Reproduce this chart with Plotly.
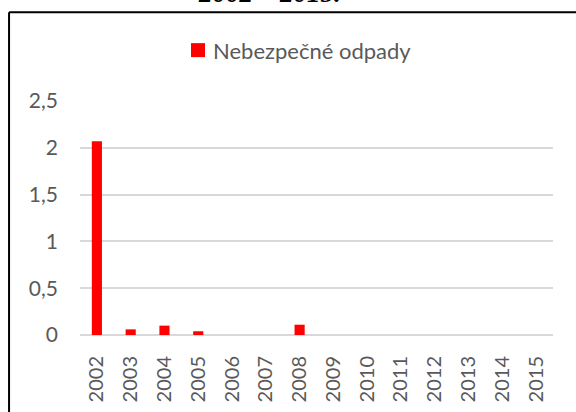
import plotly.graph_objects as go

years = ["2002", "2003", "2004", "2005", "2006", "2007", "2008",
         "2009", "2010", "2011", "2012", "2013", "2014", "2015"]
values = [2.07, 0.06, 0.10, 0.04, 0, 0, 0.11, 0, 0, 0, 0, 0, 0, 0]
series_name = "Nebezpečné odpady"
y_ticks = [0, 0.5, 1, 1.5, 2, 2.5]
y_tick_text = ["0", "0,5", "1", "1,5", "2", "2,5"]

FONT = "Lato"
GRAY = "#595959"
RED = "#ff0000"

fig = go.Figure()
fig.add_trace(go.Bar(x=years, y=values, name=series_name,
                     marker=dict(color=RED, line=dict(width=0)),
                     showlegend=False))

fig.update_layout(
    width=576, height=412,
    margin=dict(l=80, r=23, t=101, b=76.5, autoexpand=False),
    paper_bgcolor="white", plot_bgcolor="white",
    bargap=0.7,
    font=dict(family=FONT, size=21, color=GRAY),
    showlegend=False,
    xaxis=dict(type="category", tickangle=-90, showgrid=False,
               showline=False, zeroline=False, ticks="", automargin=False,
               ticklabelstandoff=16,
               tickfont=dict(family=FONT, size=20, color=GRAY)),
    yaxis=dict(range=[0, 2.5], tickvals=y_ticks, ticktext=y_tick_text,
               showgrid=True, gridcolor="#d9d9d9", gridwidth=1.5,
               zeroline=True, zerolinecolor="#d9d9d9", zerolinewidth=1.5,
               showline=False, ticks="", ticklabelstandoff=21, automargin=False,
               tickfont=dict(family=FONT, size=21, color=GRAY)),
    shapes=[
        dict(type="line", xref="paper", yref="paper",
             x0=-0.150, x1=-0.150, y0=-0.45, y1=1.3795,
             line=dict(color="black", width=2)),
        dict(type="line", xref="paper", yref="paper",
             x0=-0.150, x1=1.1, y0=1.3795, y1=1.3795,
             line=dict(color="black", width=2)),
        # legend swatch
        dict(type="rect", xref="paper", yref="paper",
             x0=0.2347, x1=0.2643, y0=1.1876, y1=1.2473,
             fillcolor=RED, line=dict(width=0)),
    ],
    annotations=[
        dict(text="<b><i>2002 – 2015.</i></b>", xref="paper", yref="paper",
             x=0.3996, y=1.462, xanchor="center", yanchor="middle",
             showarrow=False,
             font=dict(family="Liberation Serif", size=27, color="black")),
        dict(text=series_name, xref="paper", yref="paper",
             x=0.277, y=1.2175, xanchor="left", yanchor="middle",
             showarrow=False,
             font=dict(family=FONT, size=22, color=GRAY)),
    ],
)

fig.write_html("out.html", config={"displayModeBar": False},
               post_script="document.body.style.margin='0';document.body.style.overflow='hidden';")
